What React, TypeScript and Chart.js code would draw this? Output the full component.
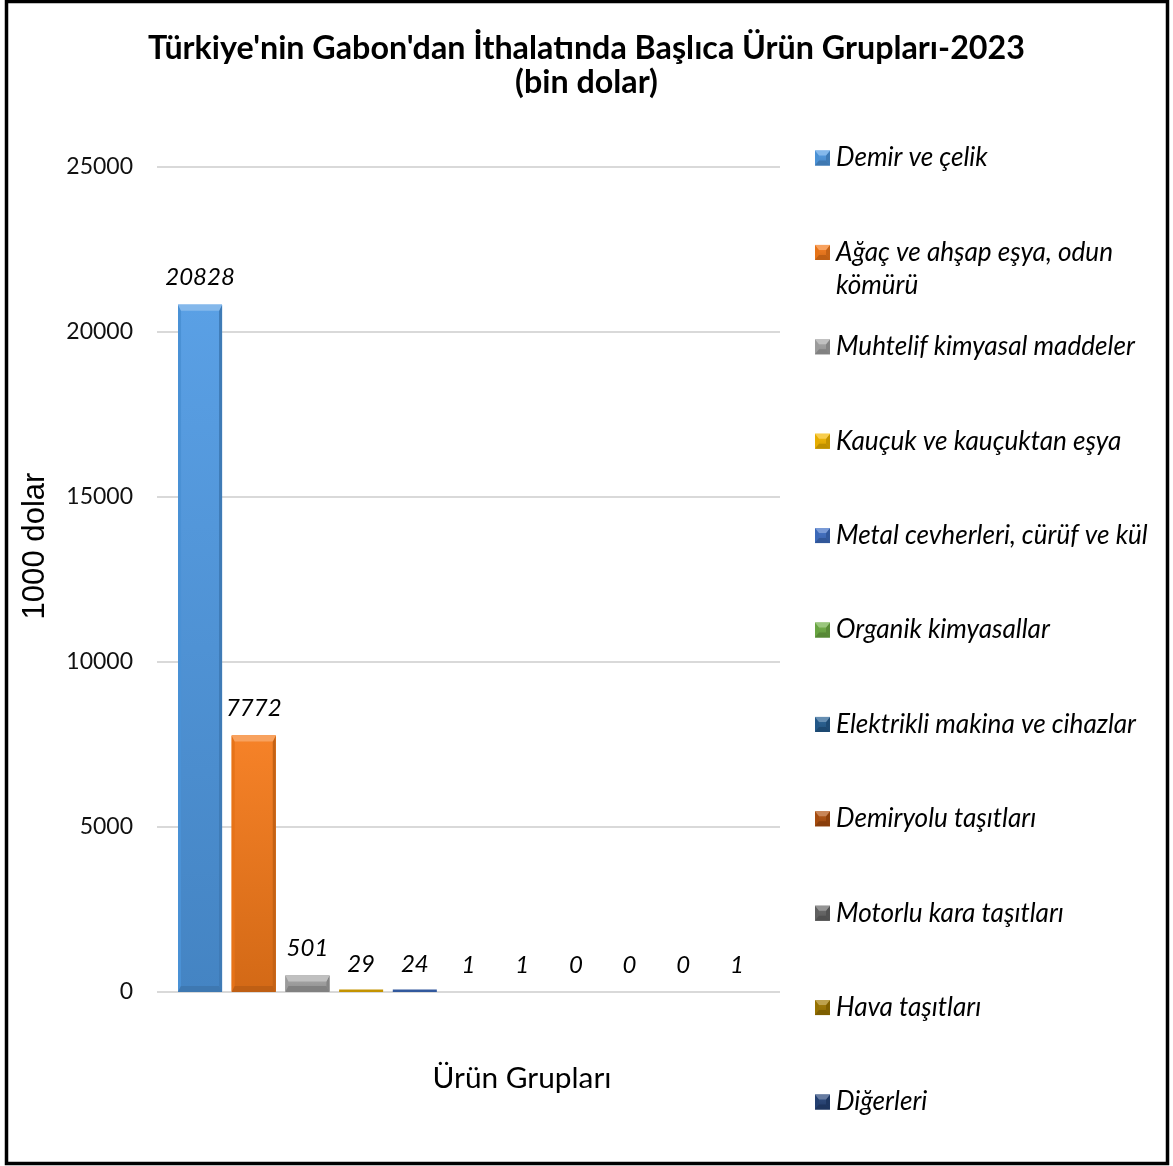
import React, { useEffect, useRef } from 'react';
import { Chart, registerables } from 'chart.js';

Chart.register(...registerables);

const categories = [
  'Demir ve çelik',
  'Ağaç ve ahşap eşya, odun kömürü',
  'Muhtelif kimyasal maddeler',
  'Kauçuk ve kauçuktan eşya',
  'Metal cevherleri, cürüf ve kül',
  'Organik kimyasallar',
  'Elektrikli makina ve cihazlar',
  'Demiryolu taşıtları',
  'Motorlu kara taşıtları',
  'Hava taşıtları',
  'Diğerleri',
];
const values = [20828, 7772, 501, 29, 24, 1, 1, 0, 0, 0, 1];
const colors = [
  '#4F9AE3', '#F57A1A', '#A5A5A5', '#F5B800', '#3F6FC4', '#6FAE45',
  '#255E91', '#B0500F', '#666666', '#A07800', '#264478',
];
const yTicks = [0, 5000, 10000, 15000, 20000, 25000];
const titleLines = ["Türkiye'nin Gabon'dan İthalatında Başlıca Ürün Grupları-2023", '(bin dolar)'];
const xTitle = 'Ürün Grupları';
const yTitle = '1000 dolar';

const FONT = 'Lato';

function hexToRgb(h: string): number[] {
  const n = parseInt(h.slice(1), 16);
  return [(n >> 16) & 255, (n >> 8) & 255, n & 255];
}
function mix(h: string, t: number[], a: number): string {
  const c = hexToRgb(h);
  return `rgb(${c.map((v, i) => Math.round(v + (t[i] - v) * a)).join(',')})`;
}
const lighten = (h: string, a: number) => mix(h, [255, 255, 255], a);
const darken = (h: string, a: number) => mix(h, [0, 0, 0], a);

function poly(ctx: CanvasRenderingContext2D, pts: number[][], fill: string) {
  ctx.beginPath();
  ctx.moveTo(pts[0][0], pts[0][1]);
  for (let i = 1; i < pts.length; i++) ctx.lineTo(pts[i][0], pts[i][1]);
  ctx.closePath();
  ctx.fillStyle = fill;
  ctx.fill();
}

function drawBevel(
  ctx: CanvasRenderingContext2D, left: number, top: number, w: number, h: number,
  color: string, bt: number, bs: number, bb: number
) {
  const right = left + w;
  const bottom = top + h;
  bt = Math.min(bt, h / 2);
  bb = Math.min(bb, h / 2);
  bs = Math.min(bs, w / 2);
  const g = ctx.createLinearGradient(0, top, 0, bottom);
  g.addColorStop(0, lighten(color, 0.06));
  g.addColorStop(1, darken(color, 0.14));
  ctx.fillStyle = g;
  ctx.fillRect(left, top, w, h);
  poly(ctx, [[left, top], [left + bs, top + bt], [left + bs, bottom - bb], [left, bottom]], darken(color, 0.06));
  poly(ctx, [[right, top], [right - bs, top + bt], [right - bs, bottom - bb], [right, bottom]], darken(color, 0.2));
  poly(ctx, [[left, bottom], [left + bs, bottom - bb], [right - bs, bottom - bb], [right, bottom]], darken(color, 0.22));
  poly(ctx, [[left, top], [right, top], [right - bs, top + bt], [left + bs, top + bt]], lighten(color, 0.3));
}

function fitSize(text: string, target: number, style: string, family: string): number {
  const c = document.createElement('canvas');
  const ctx = c.getContext('2d') as CanvasRenderingContext2D;
  ctx.font = `${style} 100px "${family}"`;
  const w = ctx.measureText(text).width;
  return (100 * target) / w;
}

function barHeight(chart: any, v: number): number {
  const s = chart.scales.y;
  return s.getPixelForValue(0) - s.getPixelForValue(v);
}

export default function App() {
  const ref = useRef<HTMLCanvasElement | null>(null);
  useEffect(() => {
    document.body.style.margin = '0';
    const canvas = ref.current;
    if (!canvas) return;

    const sz = {
      title: fitSize(titleLines[0], 877, 'bold', FONT),
      legend: fitSize('Metal cevherleri, cürüf ve kül', 312, 'italic', FONT),
      label: 24,
      tick: 23,
      xTitle: fitSize(xTitle, 179, 'normal', FONT),
      yTitle: fitSize(yTitle, 147, 'normal', 'Liberation Sans'),
    };

    const decorPlugin = {
      id: 'decor',
      beforeDraw(chart: any) {
        const ctx = chart.ctx as CanvasRenderingContext2D;
        ctx.save();
        ctx.fillStyle = '#ffffff';
        ctx.fillRect(0, 0, chart.width, chart.height);
        ctx.restore();
      },
      afterDatasetsDraw(chart: any) {
        const ctx = chart.ctx as CanvasRenderingContext2D;
        const ys = chart.scales.y;
        const base = ys.getPixelForValue(0);
        ctx.save();
        chart.data.datasets.forEach((ds: any, i: number) => {
          const meta = chart.getDatasetMeta(i);
          meta.data.forEach((el: any, j: number) => {
            const { x, width } = el.getProps(['x', 'width'], true);
            const v = ds.data[j];
            const top = ys.getPixelForValue(v);
            const h = base - top;
            const left = x - width / 2;
            if (h < 0.5) return;
            if (h < 4) {
              const hh = Math.max(h, 2.5);
              ctx.fillStyle = darken(colors[i], 0.2);
              ctx.fillRect(left, base - hh, width, hh);
              return;
            }
            drawBevel(ctx, left, top, width, h, colors[i], 6, 3, 6);
          });
        });
        ctx.restore();
      },
      afterDraw(chart: any) {
        const ctx = chart.ctx as CanvasRenderingContext2D;
        const ys = chart.scales.y;
        ctx.save();
        // value labels
        ctx.fillStyle = '#000';
        ctx.font = `italic ${sz.label}px "${FONT}"`;
        ctx.textAlign = 'center';
        ctx.textBaseline = 'middle';
        chart.data.datasets.forEach((ds: any, i: number) => {
          const meta = chart.getDatasetMeta(i);
          meta.data.forEach((el: any, j: number) => {
            const { x } = el.getProps(['x'], true);
            const top = ys.getPixelForValue(ds.data[j]);
            ctx.fillText(String(ds.data[j]), x, top - 27);
          });
        });

        // legend
        const lx = 815;
        const ty0 = 158;
        const step = 94.4;
        const maxW = 330;
        ctx.textAlign = 'left';
        ctx.font = `italic ${sz.legend}px "${FONT}"`;
        chart.data.datasets.forEach((ds: any, i: number) => {
          const cy = ty0 + i * step;
          drawBevel(ctx, lx, cy - 7.5, 15, 15, colors[i], 5, 4, 5);
          const words = String(ds.label).split(' ');
          const lines: string[] = [];
          let cur = '';
          words.forEach((w) => {
            const test = cur ? cur + ' ' + w : w;
            if (ctx.measureText(test).width > maxW && cur) {
              lines.push(cur);
              cur = w;
            } else cur = test;
          });
          if (cur) lines.push(cur);
          ctx.fillStyle = '#000';
          lines.forEach((ln, k) => ctx.fillText(ln, 836, cy + k * 33));
        });

        // title
        ctx.textAlign = 'center';
        ctx.fillStyle = '#000';
        ctx.font = `bold ${sz.title}px "${FONT}"`;
        ctx.fillText(titleLines[0], 586.5, 49);
        ctx.fillText(titleLines[1], 586.5, 83);

        // axis titles
        ctx.font = `${sz.xTitle}px "${FONT}"`;
        ctx.fillText(xTitle, 522, 1078);
        ctx.save();
        ctx.translate(35, 546);
        ctx.rotate(-Math.PI / 2);
        ctx.font = `${sz.yTitle}px "Liberation Sans"`;
        ctx.fillText(yTitle, 0, 0);
        ctx.restore();

        // border
        ctx.strokeStyle = '#000';
        ctx.lineWidth = 3.5;
        ctx.strokeRect(6.5, 1.5, 1161, 1162);
        ctx.restore();
      },
    };

    const chart = new Chart(canvas, {
      type: 'bar',
      data: {
        labels: [''],
        datasets: categories.map((c, i) => ({
          label: c,
          data: [values[i]],
          backgroundColor: (cx: any) => {
            const v = cx.raw;
            if (typeof v !== 'number' || !cx.chart.scales.y) return colors[i];
            return barHeight(cx.chart, v) < 0.5 ? 'rgba(0,0,0,0)' : colors[i];
          },
          borderWidth: 0,
          inflateAmount: 0,
        })),
      },
      options: {
        animation: false,
        responsive: false,
        maintainAspectRatio: false,
        devicePixelRatio: 1,
        layout: { padding: { left: 0, right: 393, top: 167, bottom: 174 } },
        datasets: { bar: { categoryPercentage: 0.948, barPercentage: 0.82 } },
        plugins: {
          legend: { display: false },
          title: { display: false },
          tooltip: { enabled: false },
        },
        scales: {
          x: { display: false },
          y: {
            min: 0,
            max: 25000,
            afterBuildTicks: (s: any) => {
              s.ticks = yTicks.map((v) => ({ value: v }));
            },
            afterFit: (s: any) => {
              s.width = 157;
            },
            ticks: {
              padding: 24,
              color: '#111',
              font: { family: FONT, size: sz.tick },
              callback: (v: any) => String(v),
            },
            grid: { color: '#d9d9d9', lineWidth: 2, drawTicks: false },
            border: { display: false },
          },
        },
      } as any,
      plugins: [decorPlugin],
    });
    return () => chart.destroy();
  }, []);
  return (
    <div style={{ width: 1173, height: 1166 }}>
      <canvas ref={ref} width={1173} height={1166} style={{ display: 'block', width: 1173, height: 1166 }} />
    </div>
  );
}
